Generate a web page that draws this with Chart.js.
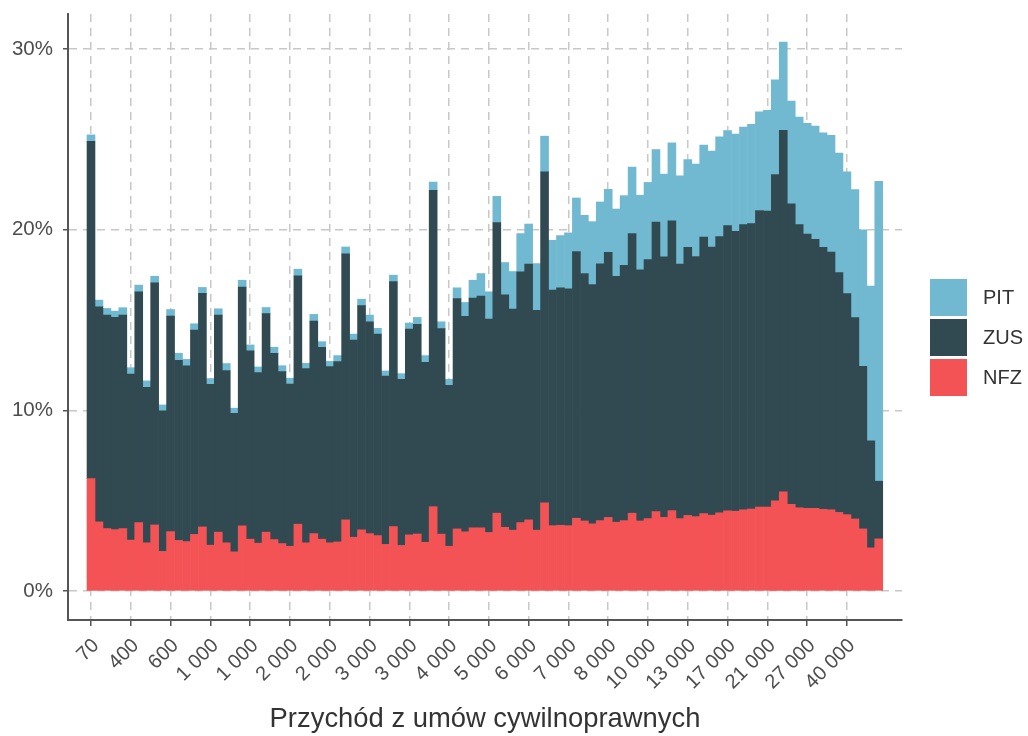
<!DOCTYPE html>
<html>
<head>
<meta charset="utf-8">
<script src="https://cdn.jsdelivr.net/npm/chart.js@4"></script>
<style>
  body { margin: 0; background: #fff; }
  #wrap { position: relative; width: 1028px; height: 736px; }
  #legend { position: absolute; left: 930px; top: 277px; font-family: "Liberation Sans", Arial, sans-serif; font-size: 20px; color: #333; }
  .item { display: flex; align-items: center; height: 40px; }
  .box { width: 37px; height: 37px; margin-right: 16px; }
</style>
</head>
<body>
<div id="wrap">
  <canvas id="chart" width="1028" height="736"></canvas>
  <div id="legend"></div>
</div>
<script>
// tick labels, one every 5 bars (index 0, 5, 10, ...)
const tickLabels = ["70", "400", "600", "1 000", "1 000", "2 000", "2 000", "3 000", "3 000", "4 000",
  "5 000", "6 000", "7 000", "8 000", "10 000", "13 000", "17 000", "21 000", "27 000", "40 000"];

// shares in % of income, 100 bins
const nfz = [6.22,3.83,3.46,3.40,3.46,2.82,3.79,2.67,3.66,2.19,
  3.29,2.80,2.74,3.13,3.55,2.54,3.26,2.67,2.17,3.61,
  2.87,2.65,3.26,2.85,2.63,2.48,3.70,2.67,3.18,2.87,
  2.67,2.72,3.94,2.98,3.39,3.18,3.07,2.58,3.57,2.52,
  3.11,3.16,2.70,4.67,3.15,2.48,3.44,3.28,3.50,3.50,
  3.24,4.31,3.53,3.37,3.79,3.94,3.37,4.88,3.62,3.64,
  3.62,4.03,3.88,3.72,3.90,4.07,3.81,3.90,4.31,3.88,
  4.01,4.40,4.08,4.45,4.01,4.18,4.12,4.29,4.20,4.33,
  4.44,4.42,4.50,4.54,4.65,4.65,4.99,5.49,4.80,4.61,
  4.58,4.58,4.52,4.50,4.35,4.23,3.99,3.44,2.39,2.89];

const zus = [18.67,11.90,11.81,11.74,11.81,9.19,12.77,8.61,13.40,7.78,
  11.93,9.97,9.73,11.31,12.92,8.90,12.01,9.53,7.67,13.21,
  10.43,9.44,12.09,10.31,9.51,8.98,13.74,9.64,11.76,10.62,
  9.75,9.98,14.72,10.91,12.40,11.72,11.15,9.31,13.56,9.20,
  11.39,11.60,9.96,17.50,11.37,8.91,12.75,11.92,12.71,12.82,
  11.81,16.08,12.86,12.23,13.87,14.15,12.16,18.32,13.03,13.14,
  13.10,14.76,13.69,13.24,14.20,14.68,13.60,14.13,15.47,13.89,
  14.33,16.02,14.41,16.03,14.08,14.84,14.39,15.30,14.84,15.28,
  15.78,15.48,15.78,15.79,16.41,16.37,18.06,20.01,16.62,15.67,
  15.17,14.88,14.50,14.26,13.27,12.23,11.14,9.00,5.93,3.19];

const pit = [0.35,0.37,0.37,0.35,0.41,0.35,0.37,0.35,0.36,0.33,
  0.36,0.39,0.35,0.35,0.33,0.32,0.35,0.39,0.28,0.38,
  0.32,0.31,0.34,0.33,0.33,0.32,0.37,0.29,0.37,0.31,
  0.29,0.33,0.38,0.33,0.36,0.37,0.32,0.29,0.35,0.31,
  0.33,0.38,0.37,0.46,0.38,0.33,0.59,0.77,0.99,1.25,
  1.51,1.45,1.79,2.08,2.12,2.22,2.59,1.97,2.76,2.89,
  3.10,2.96,3.22,3.48,3.43,3.48,3.73,3.85,3.68,4.13,
  4.27,4.01,4.58,4.32,4.89,4.86,5.11,5.09,5.30,5.53,
  5.26,5.39,5.39,5.49,5.46,5.58,5.24,4.88,5.69,5.94,
  6.13,6.27,6.33,6.45,6.61,6.74,7.08,7.55,8.56,16.59];

const yTicks = [0, 10, 20, 30];

const font = "'Liberation Sans', Arial, sans-serif";
const gridColor = "#c8c8c8";
const axisColor = "#555";

const datasets = [
  { label: "NFZ", data: nfz, backgroundColor: "#f45355" },
  { label: "ZUS", data: zus, backgroundColor: "#314a52" },
  { label: "PIT", data: pit, backgroundColor: "#71b9d0" },
].map((d) => ({ ...d, borderWidth: 0, barPercentage: 1, categoryPercentage: 1 }));

const ctx = document.getElementById("chart").getContext("2d");
new Chart(ctx, {
  type: "bar",
  data: {
    labels: nfz.map((_, i) => i),
    datasets: datasets,
  },
  options: {
    responsive: false,
    animation: false,
    layout: { padding: { left: 0, right: 126, top: 14, bottom: 0 } },
    plugins: {
      legend: { display: false },
      tooltip: { enabled: false },
    },
    scales: {
      x: {
        type: "linear",
        stacked: true,
        offset: false,
        min: -2.89,
        max: 101.92,
        afterBuildTicks: (scale) => {
          scale.ticks = tickLabels.map((_, k) => ({ value: k * 5 }));
        },
        afterFit: (scale) => {
          scale.height = 116;
          scale.paddingLeft = 0;
          scale.paddingRight = 0;
        },
        grid: {
          offset: false,
          color: gridColor,
          lineWidth: 1.5,
          tickColor: axisColor,
          tickWidth: 1.5,
          tickLength: 6,
        },
        border: { display: true, color: axisColor, width: 2, dash: [8, 6] },
        ticks: {
          autoSkip: false,
          maxRotation: 45,
          minRotation: 45,
          padding: 8,
          labelOffset: 5,
          color: "#4d4d4d",
          font: { family: font, size: 20 },
          callback: (value, index) => tickLabels[index],
        },
        title: {
          display: true,
          text: "Przychód z umów cywilnoprawnych",
          color: "#333",
          font: { family: font, size: 27.4 },
          padding: { top: 0, bottom: 0 },
        },
      },
      y: {
        stacked: true,
        min: -1.6,
        max: 31.93,
        afterBuildTicks: (scale) => {
          scale.ticks = yTicks.map((v) => ({ value: v }));
        },
        afterFit: (scale) => {
          scale.width = 68;
          scale.paddingTop = 0;
          scale.paddingBottom = 0;
        },
        grid: {
          color: gridColor,
          lineWidth: 1.5,
          tickColor: axisColor,
          tickWidth: 1.5,
          tickLength: 5,
        },
        border: { display: true, color: axisColor, width: 2, dash: [8, 6] },
        ticks: {
          padding: 10,
          color: "#4d4d4d",
          font: { family: font, size: 20.5 },
          callback: (value) => value + "%",
        },
      },
    },
  },
});

// legend, top to bottom: PIT, ZUS, NFZ
const legend = document.getElementById("legend");
datasets.slice().reverse().forEach((d) => {
  const item = document.createElement("div");
  item.className = "item";
  item.innerHTML = `<span class="box" style="background:${d.backgroundColor}"></span><span>${d.label}</span>`;
  legend.appendChild(item);
});
</script>
</body>
</html>
